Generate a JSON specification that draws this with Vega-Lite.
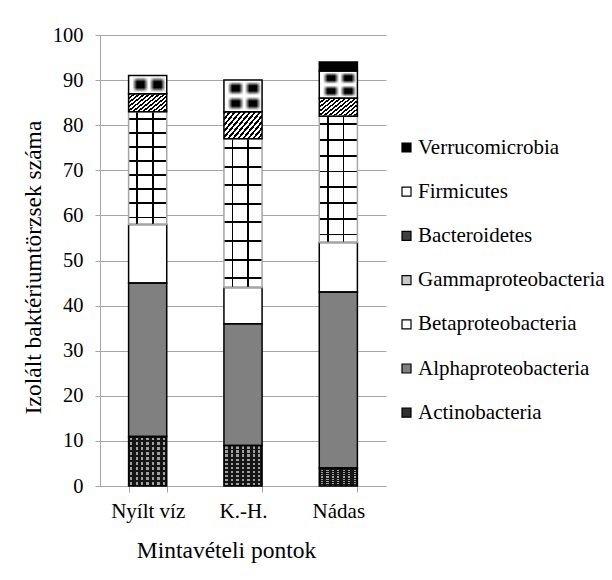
{
  "$schema": "https://vega.github.io/schema/vega-lite/v6.json",
  "width": 286,
  "height": 451,
  "autosize": {"type": "none"},
  "padding": {"left": 100, "top": 35, "right": 226, "bottom": 94},
  "background": "white",
  "config": {"font": "Liberation Serif", "view": {"stroke": null}},
  "data": {
    "values": [
      {"site": "Nyílt víz", "group": "Actinobacteria", "count": 11},
      {"site": "Nyílt víz", "group": "Alphaproteobacteria", "count": 34},
      {"site": "Nyílt víz", "group": "Betaproteobacteria", "count": 13},
      {"site": "Nyílt víz", "group": "Gammaproteobacteria", "count": 25},
      {"site": "Nyílt víz", "group": "Bacteroidetes", "count": 4},
      {"site": "Nyílt víz", "group": "Firmicutes", "count": 4},
      {"site": "K.-H.", "group": "Actinobacteria", "count": 9},
      {"site": "K.-H.", "group": "Alphaproteobacteria", "count": 27},
      {"site": "K.-H.", "group": "Betaproteobacteria", "count": 8},
      {"site": "K.-H.", "group": "Gammaproteobacteria", "count": 33},
      {"site": "K.-H.", "group": "Bacteroidetes", "count": 6},
      {"site": "K.-H.", "group": "Firmicutes", "count": 7},
      {"site": "Nádas", "group": "Actinobacteria", "count": 4},
      {"site": "Nádas", "group": "Alphaproteobacteria", "count": 39},
      {"site": "Nádas", "group": "Betaproteobacteria", "count": 11},
      {"site": "Nádas", "group": "Gammaproteobacteria", "count": 28},
      {"site": "Nádas", "group": "Bacteroidetes", "count": 4},
      {"site": "Nádas", "group": "Firmicutes", "count": 6},
      {"site": "Nádas", "group": "Verrucomicrobia", "count": 2}
    ]
  },
  "transform": [{"window": [{"op": "row_number", "as": "idx"}]}],
  "encoding": {
    "x": {
      "field": "site", "type": "nominal",
      "sort": ["Nyílt víz", "K.-H.", "Nádas"],
      "scale": {"paddingInner": 0.6, "paddingOuter": 0.3},
      "axis": {
        "title": "Mintavételi pontok", "labelAngle": 0, "tickBand": "extent", "tickSize": 6,
        "labelPadding": 8, "labelFont": "Liberation Serif", "labelFontSize": 21, "labelColor": "black",
        "domainColor": "#a6a6a6", "tickColor": "#a6a6a6",
        "titleFont": "Liberation Serif", "titleFontSize": 23.5, "titleFontWeight": "normal", "titleColor": "black",
        "titleY": 64, "titleX": 126, "titleBaseline": "middle"
      }
    },
    "y": {
      "field": "count", "type": "quantitative", "stack": "zero",
      "scale": {"domain": [0, 100]},
      "axis": {
        "title": "Izolált baktériumtörzsek száma",
        "values": [0, 10, 20, 30, 40, 50, 60, 70, 80, 90, 100],
        "grid": true, "gridColor": "#a6a6a6", "domainColor": "#a6a6a6", "tickColor": "#a6a6a6",
        "tickSize": 5, "labelPadding": 12, "labelFont": "Liberation Serif", "labelFontSize": 20.5, "labelColor": "black",
        "titleFont": "Liberation Serif", "titleFontSize": 23.5, "titleFontWeight": "normal", "titleColor": "black",
        "titleX": -67, "titleY": 232, "titleBaseline": "middle"
      }
    },
    "detail": {"field": "group", "type": "nominal"},
    "order": {"field": "idx", "type": "quantitative"}
  },
  "layer": [
    {
      "mark": {"type": "bar", "strokeWidth": 0},
      "encoding": {
        "fill": {
          "field": "group", "type": "nominal",
          "scale": {
            "domain": ["Verrucomicrobia", "Firmicutes", "Bacteroidetes", "Gammaproteobacteria", "Betaproteobacteria", "Alphaproteobacteria", "Actinobacteria"],
            "range": ["#000000", "#ffffff", "#404040", "#c8c8c8", "#ffffff", "#808080", "#303030"]
          },
          "legend": {
            "title": null, "orient": "none", "legendX": 296, "legendY": 102, "padding": 0,
            "symbolType": "square", "symbolSize": 81, "symbolStrokeColor": "black", "symbolStrokeWidth": 1.2,
            "labelFont": "Liberation Serif", "labelFontSize": 21, "labelColor": "black", "labelOffset": 1,
            "labelLimit": 300, "rowPadding": 22.2
          },
          "condition": [
            {"test": "datum.group === 'Bacteroidetes'", "value": {"gradient": "linear", "x1": 0, "y1": 0, "x2": 1.18, "y2": 0.69, "stops": [
              {"offset": 0, "color": "#000"}, {"offset": 0.04, "color": "#000"}, {"offset": 0.04, "color": "#fff"}, {"offset": 0.0833, "color": "#fff"},
              {"offset": 0.0833, "color": "#000"}, {"offset": 0.1233, "color": "#000"}, {"offset": 0.1233, "color": "#fff"}, {"offset": 0.1667, "color": "#fff"},
              {"offset": 0.1667, "color": "#000"}, {"offset": 0.2067, "color": "#000"}, {"offset": 0.2067, "color": "#fff"}, {"offset": 0.25, "color": "#fff"},
              {"offset": 0.25, "color": "#000"}, {"offset": 0.29, "color": "#000"}, {"offset": 0.29, "color": "#fff"}, {"offset": 0.3333, "color": "#fff"},
              {"offset": 0.3333, "color": "#000"}, {"offset": 0.3733, "color": "#000"}, {"offset": 0.3733, "color": "#fff"}, {"offset": 0.4167, "color": "#fff"},
              {"offset": 0.4167, "color": "#000"}, {"offset": 0.4567, "color": "#000"}, {"offset": 0.4567, "color": "#fff"}, {"offset": 0.5, "color": "#fff"},
              {"offset": 0.5, "color": "#000"}, {"offset": 0.54, "color": "#000"}, {"offset": 0.54, "color": "#fff"}, {"offset": 0.5833, "color": "#fff"},
              {"offset": 0.5833, "color": "#000"}, {"offset": 0.6233, "color": "#000"}, {"offset": 0.6233, "color": "#fff"}, {"offset": 0.6667, "color": "#fff"},
              {"offset": 0.6667, "color": "#000"}, {"offset": 0.7067, "color": "#000"}, {"offset": 0.7067, "color": "#fff"}, {"offset": 0.75, "color": "#fff"},
              {"offset": 0.75, "color": "#000"}, {"offset": 0.79, "color": "#000"}, {"offset": 0.79, "color": "#fff"}, {"offset": 0.8333, "color": "#fff"},
              {"offset": 0.8333, "color": "#000"}, {"offset": 0.8733, "color": "#000"}, {"offset": 0.8733, "color": "#fff"}, {"offset": 0.9167, "color": "#fff"},
              {"offset": 0.9167, "color": "#000"}, {"offset": 0.9567, "color": "#000"}, {"offset": 0.9567, "color": "#fff"}, {"offset": 1, "color": "#fff"}
            ]}},
            {"test": "datum.group === 'Gammaproteobacteria' || datum.group === 'Firmicutes'", "value": "#ffffff"},
            {"test": "datum.group === 'Actinobacteria'", "value": "#151515"}
          ]
        }
      }
    },
    {
      "mark": {"type": "bar", "strokeWidth": 0},
      "encoding": {
        "fill": {
          "condition": [
            {"test": "datum.group === 'Gammaproteobacteria'", "value": {"gradient": "linear", "x1": 0, "y1": 0, "x2": 1, "y2": 0, "stops": [
              {"offset": 0, "color": "rgba(0,0,0,0)"}, {"offset": 0.2, "color": "rgba(0,0,0,0)"}, {"offset": 0.2, "color": "#000"}, {"offset": 0.25, "color": "#000"},
              {"offset": 0.25, "color": "rgba(0,0,0,0)"}, {"offset": 0.61, "color": "rgba(0,0,0,0)"}, {"offset": 0.61, "color": "#000"}, {"offset": 0.66, "color": "#000"},
              {"offset": 0.66, "color": "rgba(0,0,0,0)"}, {"offset": 1, "color": "rgba(0,0,0,0)"}
            ]}},
            {"test": "datum.group === 'Firmicutes'", "value": {"gradient": "linear", "x1": 0, "y1": 0, "x2": 1, "y2": 0, "stops": [
              {"offset": 0, "color": "rgba(0,0,0,0)"}, {"offset": 0.1, "color": "rgba(0,0,0,0)"}, {"offset": 0.22, "color": "#000"}, {"offset": 0.4, "color": "#000"}, {"offset": 0.52, "color": "rgba(0,0,0,0)"},
              {"offset": 0.55, "color": "rgba(0,0,0,0)"}, {"offset": 0.67, "color": "#000"}, {"offset": 0.85, "color": "#000"}, {"offset": 0.97, "color": "rgba(0,0,0,0)"}, {"offset": 1, "color": "rgba(0,0,0,0)"}
            ]}},
            {"test": "datum.group === 'Actinobacteria'", "value": {"gradient": "linear", "x1": 0, "y1": 0, "x2": 1, "y2": 0, "stops": [
              {"offset": 0, "color": "rgba(0,0,0,0)"}, {"offset": 0.04, "color": "rgba(0,0,0,0)"}, {"offset": 0.04, "color": "#a0a0a0"}, {"offset": 0.1, "color": "#a0a0a0"}, {"offset": 0.1, "color": "rgba(0,0,0,0)"},
              {"offset": 0.183, "color": "rgba(0,0,0,0)"}, {"offset": 0.183, "color": "#a0a0a0"}, {"offset": 0.243, "color": "#a0a0a0"}, {"offset": 0.243, "color": "rgba(0,0,0,0)"},
              {"offset": 0.326, "color": "rgba(0,0,0,0)"}, {"offset": 0.326, "color": "#a0a0a0"}, {"offset": 0.386, "color": "#a0a0a0"}, {"offset": 0.386, "color": "rgba(0,0,0,0)"},
              {"offset": 0.469, "color": "rgba(0,0,0,0)"}, {"offset": 0.469, "color": "#a0a0a0"}, {"offset": 0.529, "color": "#a0a0a0"}, {"offset": 0.529, "color": "rgba(0,0,0,0)"},
              {"offset": 0.612, "color": "rgba(0,0,0,0)"}, {"offset": 0.612, "color": "#a0a0a0"}, {"offset": 0.672, "color": "#a0a0a0"}, {"offset": 0.672, "color": "rgba(0,0,0,0)"},
              {"offset": 0.755, "color": "rgba(0,0,0,0)"}, {"offset": 0.755, "color": "#a0a0a0"}, {"offset": 0.815, "color": "#a0a0a0"}, {"offset": 0.815, "color": "rgba(0,0,0,0)"},
              {"offset": 0.898, "color": "rgba(0,0,0,0)"}, {"offset": 0.898, "color": "#a0a0a0"}, {"offset": 0.958, "color": "#a0a0a0"}, {"offset": 0.958, "color": "rgba(0,0,0,0)"},
              {"offset": 1, "color": "rgba(0,0,0,0)"}
            ]}}
          ],
          "value": "rgba(0,0,0,0)"
        }
      }
    },
    {
      "mark": {"type": "bar", "strokeWidth": 0},
      "encoding": {
        "fill": {
          "condition": [
            {"test": "datum.group === 'Gammaproteobacteria'", "value": {"gradient": "linear", "x1": 0, "y1": 0, "x2": 0, "y2": 1, "stops": [
              {"offset": 0, "color": "rgba(0,0,0,0)"}, {"offset": 0.0555, "color": "rgba(0,0,0,0)"}, {"offset": 0.0555, "color": "#000"}, {"offset": 0.0695, "color": "#000"}, {"offset": 0.0695, "color": "rgba(0,0,0,0)"},
              {"offset": 0.1805, "color": "rgba(0,0,0,0)"}, {"offset": 0.1805, "color": "#000"}, {"offset": 0.1945, "color": "#000"}, {"offset": 0.1945, "color": "rgba(0,0,0,0)"},
              {"offset": 0.3055, "color": "rgba(0,0,0,0)"}, {"offset": 0.3055, "color": "#000"}, {"offset": 0.3195, "color": "#000"}, {"offset": 0.3195, "color": "rgba(0,0,0,0)"},
              {"offset": 0.4305, "color": "rgba(0,0,0,0)"}, {"offset": 0.4305, "color": "#000"}, {"offset": 0.4445, "color": "#000"}, {"offset": 0.4445, "color": "rgba(0,0,0,0)"},
              {"offset": 0.5555, "color": "rgba(0,0,0,0)"}, {"offset": 0.5555, "color": "#000"}, {"offset": 0.5695, "color": "#000"}, {"offset": 0.5695, "color": "rgba(0,0,0,0)"},
              {"offset": 0.6805, "color": "rgba(0,0,0,0)"}, {"offset": 0.6805, "color": "#000"}, {"offset": 0.6945, "color": "#000"}, {"offset": 0.6945, "color": "rgba(0,0,0,0)"},
              {"offset": 0.8055, "color": "rgba(0,0,0,0)"}, {"offset": 0.8055, "color": "#000"}, {"offset": 0.8195, "color": "#000"}, {"offset": 0.8195, "color": "rgba(0,0,0,0)"},
              {"offset": 0.9305, "color": "rgba(0,0,0,0)"}, {"offset": 0.9305, "color": "#000"}, {"offset": 0.9445, "color": "#000"}, {"offset": 0.9445, "color": "rgba(0,0,0,0)"},
              {"offset": 1, "color": "rgba(0,0,0,0)"}
            ]}},
            {"test": "datum.group === 'Firmicutes' && datum.site === 'Nyílt víz'", "value": {"gradient": "linear", "x1": 0, "y1": 0, "x2": 0, "y2": 1, "stops": [
              {"offset": 0, "color": "#fff"}, {"offset": 0.08, "color": "#fff"}, {"offset": 0.34, "color": "rgba(255,255,255,0)"}, {"offset": 0.66, "color": "rgba(255,255,255,0)"},
              {"offset": 0.92, "color": "#fff"}, {"offset": 1, "color": "#fff"}
            ]}},
            {"test": "datum.group === 'Firmicutes'", "value": {"gradient": "linear", "x1": 0, "y1": 0, "x2": 0, "y2": 1, "stops": [
              {"offset": 0, "color": "#fff"}, {"offset": 0.05, "color": "#fff"}, {"offset": 0.18, "color": "rgba(255,255,255,0)"}, {"offset": 0.34, "color": "rgba(255,255,255,0)"}, {"offset": 0.47, "color": "#fff"},
              {"offset": 0.53, "color": "#fff"}, {"offset": 0.66, "color": "rgba(255,255,255,0)"}, {"offset": 0.82, "color": "rgba(255,255,255,0)"}, {"offset": 0.95, "color": "#fff"}, {"offset": 1, "color": "#fff"}
            ]}},
            {"test": "datum.group === 'Actinobacteria'", "value": {"gradient": "linear", "x1": 0, "y1": 0, "x2": 0, "y2": 1, "stops": [
              {"offset": 0, "color": "#151515"}, {"offset": 0.0225, "color": "#151515"}, {"offset": 0.0225, "color": "rgba(0,0,0,0)"}, {"offset": 0.0775, "color": "rgba(0,0,0,0)"}, {"offset": 0.0775, "color": "#151515"},
              {"offset": 0.1225, "color": "#151515"}, {"offset": 0.1225, "color": "rgba(0,0,0,0)"}, {"offset": 0.1775, "color": "rgba(0,0,0,0)"}, {"offset": 0.1775, "color": "#151515"},
              {"offset": 0.2225, "color": "#151515"}, {"offset": 0.2225, "color": "rgba(0,0,0,0)"}, {"offset": 0.2775, "color": "rgba(0,0,0,0)"}, {"offset": 0.2775, "color": "#151515"},
              {"offset": 0.3225, "color": "#151515"}, {"offset": 0.3225, "color": "rgba(0,0,0,0)"}, {"offset": 0.3775, "color": "rgba(0,0,0,0)"}, {"offset": 0.3775, "color": "#151515"},
              {"offset": 0.4225, "color": "#151515"}, {"offset": 0.4225, "color": "rgba(0,0,0,0)"}, {"offset": 0.4775, "color": "rgba(0,0,0,0)"}, {"offset": 0.4775, "color": "#151515"},
              {"offset": 0.5225, "color": "#151515"}, {"offset": 0.5225, "color": "rgba(0,0,0,0)"}, {"offset": 0.5775, "color": "rgba(0,0,0,0)"}, {"offset": 0.5775, "color": "#151515"},
              {"offset": 0.6225, "color": "#151515"}, {"offset": 0.6225, "color": "rgba(0,0,0,0)"}, {"offset": 0.6775, "color": "rgba(0,0,0,0)"}, {"offset": 0.6775, "color": "#151515"},
              {"offset": 0.7225, "color": "#151515"}, {"offset": 0.7225, "color": "rgba(0,0,0,0)"}, {"offset": 0.7775, "color": "rgba(0,0,0,0)"}, {"offset": 0.7775, "color": "#151515"},
              {"offset": 0.8225, "color": "#151515"}, {"offset": 0.8225, "color": "rgba(0,0,0,0)"}, {"offset": 0.8775, "color": "rgba(0,0,0,0)"}, {"offset": 0.8775, "color": "#151515"},
              {"offset": 0.9225, "color": "#151515"}, {"offset": 0.9225, "color": "rgba(0,0,0,0)"}, {"offset": 0.9775, "color": "rgba(0,0,0,0)"}, {"offset": 0.9775, "color": "#151515"},
              {"offset": 1, "color": "#151515"}
            ]}}
          ],
          "value": "rgba(0,0,0,0)"
        }
      }
    },
    {
      "mark": {"type": "bar", "fill": "white", "fillOpacity": 0, "strokeWidth": 1.5},
      "encoding": {
        "stroke": {
          "condition": {"test": "datum.group === 'Gammaproteobacteria'", "value": "#a6a6a6"},
          "value": "#000000"
        }
      }
    }
  ]
}
